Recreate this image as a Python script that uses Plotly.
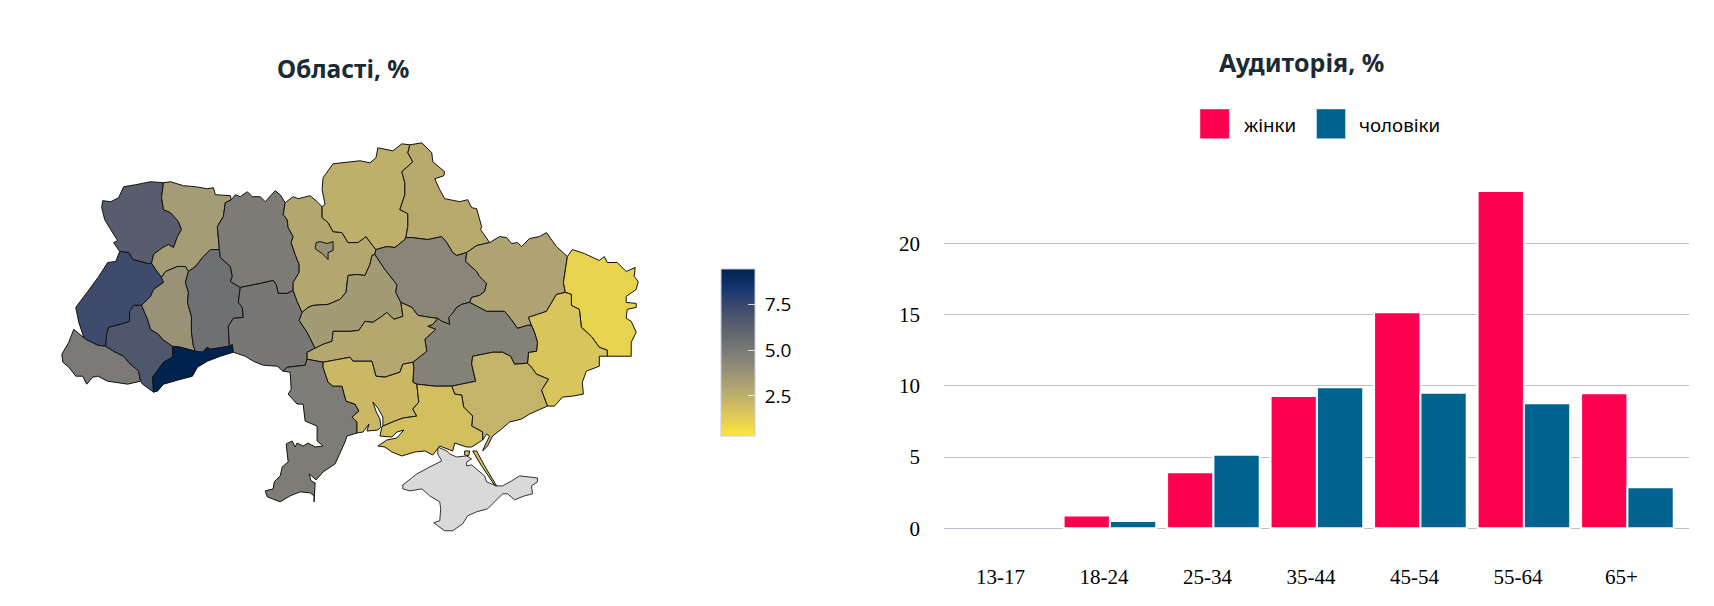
import json
import math
import urllib.parse
import plotly.graph_objects as go

# ---------- audience chart data ----------
age_groups = ["13-17", "18-24", "25-34", "35-44", "45-54", "55-64", "65+"]
women = [0, 0.89, 3.93, 9.28, 15.16, 23.67, 9.47]
men = [0, 0.51, 5.17, 9.89, 9.52, 8.77, 2.88]
y_ticks = [0, 5, 10, 15, 20]

# ---------- region values ----------
region_names = ["Волинська", "Рівненська", "Львівська", "Закарпатська", "Івано-Франківська",
                "Тернопільська", "Хмельницька", "Чернівецька", "Житомирська", "Вінницька",
                "Київська", "Черкаська", "Чернігівська", "Сумська", "Полтавська", "Харківська",
                "Луганська", "Донецька", "Дніпропетровська", "Кіровоградська", "Одеська",
                "Миколаївська", "Запорізька", "Херсонська", "м. Київ"]
region_values = [6.40, 3.36, 7.30, 4.97, 6.70,
                 3.80, 5.40, 9.44, 4.88, 5.06,
                 2.87, 3.40, 2.50, 2.70, 4.40, 3.05,
                 1.05, 1.60, 4.60, 2.80, 4.85,
                 2.10, 2.30, 1.80, 3.90]
colorbar_ticks = [2.5, 5.0, 7.5]

# ---------- map geometry: shared boundaries on a local Mercator grid ----------
GRID_PER_DEGREE = 32.0
GRID_X0, GRID_LON0 = 60.7, 22.14
GRID_Y0, GRID_LAT0 = 340.0, 48.5

ARCS = {
 "vol_out": [(163,183),(150,182),(135,185),(123,187),(118,198),(110,202),(102,201),(101,208),(104,220),(110,230),(117,241),(113,243),(119,252)],
 "vol_lvi": [(119,252),(128,253),(132,260),(147,264),(151,264)],
 "vol_riv": [(151,264),(153,255),(162,248),(168,245),(173,248),(177,237),(181,230),(178,222),(170,213),(163,210),(161,198),(163,183)],
 "riv_out": [(163,183),(170,182),(183,186),(195,187),(207,189),(213,188),(215,195),(230,196),(231,200)],
 "riv_zhy": [(231,200),(225,203),(223,217),(217,227),(219,250)],
 "riv_khm": [(219,250),(210,250),(203,257),(195,267),(188,272)],
 "riv_ter": [(188,272),(185,267),(177,267),(165,272),(161,278)],
 "riv_lvi": [(161,278),(155,270),(151,264)],
 "lvi_out": [(119,252),(115,262),(107,263),(98,277),(87,292),(75,308),(78,323),(83,338),(85,340)],
 "lvi_zak": [(85,340),(97,346),(105,347)],
 "lvi_if": [(141,306),(133,306),(129,312),(129,322),(120,325),(108,328),(106,335),(105,347)],
 "lvi_ter": [(161,278),(163,283),(153,290),(150,297),(141,306)],
 "zak_out": [(85,340),(73,330),(68,343),(61,355),(62,363),(68,368),(75,377),(82,377),(86,385),(92,378),(97,377),(107,382),(127,385),(140,382)],
 "zak_if": [(105,347),(113,352),(123,357),(128,363),(138,372),(140,382)],
 "if_ter": [(141,306),(147,320),(150,330),(158,335),(162,340),(172,347)],
 "if_che": [(172,347),(172,358),(163,363),(152,378),(153,393)],
 "if_out": [(140,382),(142,385),(153,393)],
 "ter_che": [(172,347),(180,348),(195,352)],
 "ter_khm": [(188,272),(185,283),(188,293),(187,303),(191,317),(191,333),(193,347),(195,352)],
 "khm_che": [(195,352),(202,353),(207,348),(210,350),(229,347)],
 "khm_zhy": [(219,250),(220,258),(230,267),(232,277),(230,282),(240,288)],
 "khm_vin": [(240,288),(238,303),(242,308),(243,318),(233,319),(228,327),(229,347)],
 "che_vin": [(229,347),(232,345),(233,353)],
 "che_out": [(233,353),(220,357),(207,362),(197,368),(192,377),(177,381),(163,385),(157,392),(153,393)],
 "zhy_out": [(231,200),(235,195),(240,197),(247,192),(252,197),(260,197),(265,202),(275,191),(280,195),(285,203)],
 "zhy_kyi": [(285,203),(283,215),(287,220),(288,228),(293,237),(291,243),(295,255),(299,265),(299,273),(293,283),(293,291)],
 "zhy_vin": [(240,288),(260,284),(273,281),(276,285),(278,294),(287,294),(293,291)],
 "vin_kyi": [(293,291),(297,302),(302,313)],
 "vin_chk": [(302,313),(299,321),(307,333),(315,349)],
 "vin_kir": [(315,349),(307,353),(307,360)],
 "vin_ode": [(307,360),(305,366),(287,368),(283,372)],
 "vin_out": [(233,353),(245,357),(253,362),(263,366),(277,367),(283,372)],
 "kyi_out": [(285,203),(293,197),(298,199),(310,196),(317,202),(322,207)],
 "kyi_che": [(322,207),(322,218),(328,223),(333,232),(342,233),(348,243),(358,243),(366,237),(372,245),(376,250)],
 "kyi_pol": [(376,250),(375,255)],
 "kyi_chk": [(375,255),(372,256),(370,265),(365,276),(357,275),(348,276),(346,293),(340,300),(328,305),(313,306),(308,308),(302,313)],
 "chk_pol": [(375,255),(385,270),(397,285),(396,293),(401,303)],
 "chk_kir": [(401,303),(403,317),(394,320),(387,313),(382,317),(373,323),(365,322),(359,331),(350,332),(333,332),(332,342),(323,345),(315,349)],
 "chg_out": [(410,145),(402,144),(393,151),(378,148),(376,158),(370,163),(360,161),(333,164),(323,178),(322,190),(325,205),(322,207)],
 "chg_sum": [(406,238),(408,227),(408,214),(400,210),(405,195),(405,183),(402,172),(413,162),(408,153),(410,145)],
 "chg_pol": [(376,250),(387,247),(395,248),(405,240),(406,238)],
 "sum_out": [(410,145),(422,143),(432,153),(433,162),(445,172),(444,176),(435,179),(440,190),(445,199),(460,202),(468,200),(472,208),(477,209),(482,227),(481,230),(490,243)],
 "sum_kha": [(467,253),(477,246),(490,243)],
 "sum_pol": [(467,253),(457,256),(453,253),(447,243),(442,237),(428,240),(412,238),(406,238)],
 "pol_kha": [(467,253),(466,262),(477,272),(480,277),(487,284),(485,292),(480,296),(472,298),(470,303)],
 "pol_dni": [(438,319),(442,322),(450,325),(449,318),(452,315),(457,308),(462,305),(470,303)],
 "pol_kir": [(401,303),(412,308),(418,316),(430,318),(438,319)],
 "kha_out": [(490,243),(500,237),(507,238),(512,244),(518,243),(522,247),(530,239),(540,237),(547,233),(557,247),(568,257)],
 "kha_lug": [(568,257),(564,283),(566,293)],
 "kha_don": [(566,293),(557,295),(547,312),(538,315),(529,318),(532,326)],
 "kha_dni": [(470,303),(487,312),(505,312),(510,318),(518,329),(528,326),(532,326)],
 "lug_out": [(568,257),(573,250),(585,254),(600,261),(605,257),(608,263),(618,263),(627,272),(636,268),(635,277),(639,282),(637,290),(627,297),(627,303),(637,304),(637,308),(628,310),(627,319),(632,322),(637,333),(632,343),(632,357),(620,357),(608,357)],
 "lug_don": [(566,293),(572,295),(572,306),(580,310),(582,328),(592,337),(600,348),(608,351),(608,357)],
 "don_dni": [(532,326),(535,333),(538,343),(537,352),(529,353),(528,364)],
 "don_zap": [(528,364),(532,368),(537,375),(549,380),(542,391),(548,407)],
 "don_out": [(608,357),(600,357),(600,367),(587,372),(583,383),(584,395),(573,397),(563,398),(555,407),(548,407)],
 "dni_zap": [(528,364),(515,365),(511,357),(503,353),(493,353),(473,357),(472,365),(476,382),(452,387)],
 "dni_khe": [(452,387),(435,387),(417,385)],
 "dni_myk": [(413,363),(414,368),(413,383),(417,385)],
 "dni_kir": [(438,319),(433,325),(428,327),(436,330),(425,340),(427,352),(413,363)],
 "kir_ode": [(307,360),(323,363)],
 "kir_myk": [(323,363),(350,358),(353,362),(372,362),(376,377),(385,378),(400,373),(403,365),(413,363)],
 "ode_out": [(283,372),(290,373),(291,390),(288,395),(297,405),(303,405),(305,422),(317,427),(317,442),(323,447),(315,448),(308,444),(303,447),(297,444),(295,448),(292,442),(286,445),(288,463),(282,468),(280,477),(274,483),(273,490),(265,492),(267,498),(280,503),(290,497),(300,493),(310,494),(314,497),(314,503),(315,484),(311,482),(309,475),(316,481),(323,473),(335,465),(345,443),(347,437),(357,434)],
 "ode_myk": [(323,363),(323,368),(328,383),(333,387),(342,387),(346,402),(355,405),(359,412),(352,418),(357,423),(357,434)],
 "myk_coast": [(357,434),(363,433),(369,425),(367,432),(378,431),(381,428),(380,420),(376,412),(373,403),(378,409),(383,418),(383,427)],
 "myk_khe": [(417,385),(419,403),(413,410),(417,417),(403,419),(395,422),(383,427)],
 "zap_khe": [(452,387),(455,395),(462,396),(464,408),(473,417),(472,427),(483,433),(483,441)],
 "zap_coast": [(548,407),(530,415),(522,420),(510,423),(502,430),(493,437),(488,447),(483,452),(486,445),(490,437),(487,435),(483,441)],
 "khe_coast": [(483,441),(472,448),(467,448),(455,444),(453,452),(440,447),(433,456),(425,452),(415,453),(402,457),(392,453),(385,448),(378,447),(387,441),(397,439),(404,431),(397,433),(392,438),(380,437),(382,428),(383,427)],
}

REGION_RINGS = {
 "Волинська": ["vol_out", "vol_lvi", "vol_riv"],
 "Рівненська": ["riv_out", "riv_zhy", "riv_khm", "riv_ter", "riv_lvi", "vol_riv"],
 "Львівська": ["lvi_out", "lvi_zak", "-lvi_if", "-lvi_ter", "riv_lvi", "-vol_lvi"],
 "Закарпатська": ["zak_out", "-zak_if", "-lvi_zak"],
 "Івано-Франківська": ["lvi_if", "zak_if", "if_out", "-if_che", "-if_ter"],
 "Тернопільська": ["-riv_ter", "ter_khm", "-ter_che", "-if_ter", "-lvi_ter"],
 "Хмельницька": ["-riv_khm", "khm_zhy", "khm_vin", "-khm_che", "-ter_khm"],
 "Чернівецька": ["ter_che", "khm_che", "che_vin", "che_out", "-if_che"],
 "Житомирська": ["zhy_out", "zhy_kyi", "-zhy_vin", "-khm_zhy", "-riv_zhy"],
 "Вінницька": ["zhy_vin", "vin_kyi", "vin_chk", "vin_kir", "vin_ode", "-vin_out", "-che_vin", "-khm_vin"],
 "Київська": ["kyi_out", "kyi_che", "kyi_pol", "kyi_chk", "-vin_kyi", "-zhy_kyi"],
 "Черкаська": ["-kyi_chk", "chk_pol", "chk_kir", "-vin_chk"],
 "Чернігівська": ["chg_out", "kyi_che", "chg_pol", "chg_sum"],
 "Сумська": ["sum_out", "-sum_kha", "sum_pol", "chg_sum"],
 "Полтавська": ["chg_pol", "-sum_pol", "pol_kha", "-pol_dni", "-pol_kir", "-chk_pol", "-kyi_pol"],
 "Харківська": ["kha_out", "kha_lug", "kha_don", "-kha_dni", "-pol_kha", "sum_kha"],
 "Луганська": ["lug_out", "-lug_don", "-kha_lug"],
 "Донецька": ["-kha_don", "lug_don", "don_out", "-don_zap", "-don_dni"],
 "Дніпропетровська": ["pol_dni", "kha_dni", "don_dni", "dni_zap", "dni_khe", "-dni_myk", "-dni_kir"],
 "Кіровоградська": ["-vin_kir", "-chk_kir", "pol_kir", "dni_kir", "-kir_myk", "-kir_ode"],
 "Одеська": ["ode_out", "-ode_myk", "-kir_ode", "vin_ode"],
 "Миколаївська": ["kir_myk", "dni_myk", "myk_khe", "-myk_coast", "-ode_myk"],
 "Запорізька": ["-dni_zap", "don_zap", "zap_coast", "-zap_khe"],
 "Херсонська": ["-dni_khe", "zap_khe", "khe_coast", "-myk_khe"],
}
EXTRA_RINGS = {
 "Херсонська": [[(473,452),(477,452),(485,467),(497,487),(495.5,487),(482,467)], [(465,452),(470,452),(469,457),(465,456)]],
 "м. Київ": [[(316,243),(320,242),(327,244),(333,242),(333,251),(328,253),(328,260),(322,254),(315,249)]],
}
CRIMEA_RING = [(438,448),(447,452),(450,455),(457,458),(467,457),(472,460),(467,463),(467,467),(472,466),(485,477),(487,483),(497,487),(503,487),(512,482),(520,477),(538,479),(538,483),(532,487),(533,495),(525,497),(515,501),(508,495),(503,495),(493,505),(488,510),(477,513),(468,517),(463,525),(453,532),(445,532),(438,527),(434,524),(440,522),(441,510),(440,503),(430,497),(422,490),(410,492),(403,490),(403,486),(417,475),(430,468),(442,462),(438,455)]


def grid_to_lonlat(p):
    lon = GRID_LON0 + (p[0] - GRID_X0) / GRID_PER_DEGREE
    r = GRID_PER_DEGREE * 180 / math.pi
    m0 = math.log(math.tan(math.pi / 4 + math.radians(GRID_LAT0) / 2))
    m = m0 + (GRID_Y0 - p[1]) / r
    lat = math.degrees(2 * math.atan(math.exp(m)) - math.pi / 2)
    return [lon, lat]


def clockwise(ring):
    area = sum(a[0] * b[1] - b[0] * a[1] for a, b in zip(ring, ring[1:] + ring[:1]))
    return ring[::-1] if area > 0 else ring


def close_ring(points):
    ring = clockwise([grid_to_lonlat(p) for p in points])
    return [ring + [ring[0]]]


def ring_from_arcs(names):
    pts = []
    for n in names:
        seg = ARCS[n[1:]][::-1] if n.startswith("-") else ARCS[n]
        pts.extend(seg if not pts else seg[1:])
    if pts[0] == pts[-1]:
        pts = pts[:-1]
    return pts


features = []
for name in region_names:
    polys = []
    if name in REGION_RINGS:
        polys.append(close_ring(ring_from_arcs(REGION_RINGS[name])))
    for extra in EXTRA_RINGS.get(name, []):
        polys.append(close_ring(extra))
    features.append({"type": "Feature", "id": name, "properties": {},
                     "geometry": {"type": "MultiPolygon", "coordinates": polys}})
features.append({"type": "Feature", "id": "АР Крим", "properties": {},
                 "geometry": {"type": "MultiPolygon", "coordinates": [close_ring(CRIMEA_RING)]}})
geojson = {"type": "FeatureCollection", "features": features}

W, H = 1714, 606
PINK, BLUE = "#ff0050", "#006390"
GRID = "#bfbdcf"
UI_FONT = "Noto Sans"
Z_MIN, Z_MAX = 0.286, 9.445
BAR_TOP, BAR_LEN, BAR_LEFT, BAR_THICK = 269.3, 166.7, 720.7, 33.6
TICK_WHITE = "rgba(255,255,255,0.8)"


def bar_outline(values):
    # empty bars get no white outline, so the baseline stays visible under them
    return dict(color="#ffffff", width=[0 if v == 0 else 2 for v in values])


fig = go.Figure()
fig.add_trace(go.Choropleth(
    geojson=geojson, locations=["АР Крим"], z=[1], showscale=False, geo="geo",
    colorscale=[[0, "#d9d9d9"], [1, "#d9d9d9"]],
    marker_line=dict(color="#333333", width=1), hoverinfo="location"))
fig.add_trace(go.Choropleth(
    geojson=geojson, locations=region_names, z=region_values, geo="geo",
    colorscale="Cividis", reversescale=True, zmin=Z_MIN, zmax=Z_MAX,
    marker_line=dict(color="#111111", width=1),
    colorbar=dict(
        x=BAR_LEFT / W, xanchor="left", y=1 - BAR_TOP / H, yanchor="top",
        thickness=BAR_THICK, thicknessmode="pixels", len=BAR_LEN, lenmode="pixels",
        xpad=0, ypad=0, outlinewidth=1, outlinecolor="#c8ccd6", borderwidth=0,
        tickvals=colorbar_ticks, ticktext=["\u00a0%.1f" % v for v in colorbar_ticks],
        ticks="inside", ticklen=7, tickcolor=TICK_WHITE, tickwidth=1,
        tickfont=dict(family="Open Sans", size=19, color="#000000"))))

fig.add_trace(go.Bar(x=age_groups, y=women, name="жінки", marker=dict(color=PINK, line=bar_outline(women)), showlegend=False))
fig.add_trace(go.Bar(x=age_groups, y=men, name="чоловіки", marker=dict(color=BLUE, line=bar_outline(men)), showlegend=False))

annotations = [
    dict(text="<b>Області, %</b>", x=343 / W, y=1 - 68 / H, font=dict(size=24.5, color="#1b2a33", family=UI_FONT)),
    dict(text="<b>Аудиторія, %</b>", x=1301 / W, y=1 - 62 / H, font=dict(size=25, color="#1b2a33", family=UI_FONT)),
    dict(text="жінки", x=1241.5 / W, y=1 - 124.5 / H, xanchor="left", font=dict(size=18.7, color="#000000", family=UI_FONT)),
    dict(text="чоловіки", x=1357 / W, y=1 - 124.5 / H, xanchor="left", font=dict(size=18.7, color="#000000", family=UI_FONT)),
]
for a in annotations:
    a.update(xref="paper", yref="paper", showarrow=False)
    a.setdefault("xanchor", "center")
    a["yanchor"] = "middle"

shapes = [
    dict(type="rect", xref="paper", yref="paper", x0=1200 / W, x1=1229.4 / W, y0=1 - 138.7 / H, y1=1 - 109 / H, fillcolor=PINK, line=dict(color="rgba(255,255,255,0.4)", width=1)),
    dict(type="rect", xref="paper", yref="paper", x0=1316.5 / W, x1=1345.5 / W, y0=1 - 138.7 / H, y1=1 - 109 / H, fillcolor=BLUE, line=dict(color="rgba(255,255,255,0.4)", width=1)),
]
for v in colorbar_ticks:
    py = BAR_TOP + (Z_MAX - v) / (Z_MAX - Z_MIN) * BAR_LEN
    shapes.append(dict(type="line", xref="paper", yref="paper", x0=BAR_LEFT / W, x1=(BAR_LEFT + 7.5) / W,
                       y0=1 - py / H, y1=1 - py / H, line=dict(color=TICK_WHITE, width=1)))

# map window on the local grid, a little larger than the country so nothing is clipped
win_x0, win_x1, win_y0, win_y1 = 40.0, 660.0, 120.0, 550.0
MAP_SHIFT_Y = 8.7
lon_min, lat_min = grid_to_lonlat((win_x0, win_y1))
lon_max, lat_max = grid_to_lonlat((win_x1, win_y0))

fig.update_layout(
    width=W, height=H, margin=dict(l=0, r=0, t=0, b=0, pad=0, autoexpand=False),
    paper_bgcolor="#ffffff", plot_bgcolor="#ffffff", font=dict(family="Liberation Serif", color="#000000"),
    barmode="group", bargap=0.105, bargroupgap=0, showlegend=False,
    annotations=annotations, shapes=shapes,
    geo=dict(
        domain=dict(x=[win_x0 / W, win_x1 / W], y=[1 - (win_y1 + MAP_SHIFT_Y) / H, 1 - (win_y0 + MAP_SHIFT_Y) / H]),
        projection_type="mercator", visible=False,
        lonaxis=dict(range=[lon_min, lon_max]), lataxis=dict(range=[lat_min, lat_max]),
        showframe=False, showcoastlines=False, showland=False, showcountries=False,
        showlakes=False, showocean=False, showsubunits=False, bgcolor="rgba(0,0,0,0)"),
    xaxis=dict(
        domain=[944.3 / W, 1689 / W], range=[-0.6, 6.595], type="category",
        categoryorder="array", categoryarray=age_groups,
        showgrid=False, showline=False, zeroline=False, ticks="outside", ticklen=15,
        tickcolor="rgba(0,0,0,0)", ticklabelshift=-6,
        tickfont=dict(family="Liberation Serif", size=21, color="#000000")),
    yaxis=dict(
        domain=[1 - 542.55 / H, 1 - 180 / H], range=[-1, 348.3 / 14.25],
        tickvals=y_ticks, gridcolor=GRID, gridwidth=1, zeroline=True, zerolinecolor=GRID, zerolinewidth=1,
        showline=False, ticks="outside", ticklen=19, tickcolor="rgba(0,0,0,0)",
        tickfont=dict(family="Liberation Serif", size=21, color="#000000")),
)

# The base map layers are all hidden, so an empty topology stands in for the one plotly.js would download.
EMPTY_LAYER = {"type": "GeometryCollection", "geometries": []}
empty_topology = {"type": "Topology", "arcs": [], "transform": {"scale": [1, 1], "translate": [0, 0]},
                  "objects": {k: EMPTY_LAYER for k in ["coastlines", "land", "ocean", "lakes", "rivers", "countries", "subunits"]}}
topojson_url = "data:application/json," + urllib.parse.quote(json.dumps(empty_topology)) + "#"

fig.write_html("out.html", config={"topojsonURL": topojson_url, "displayModeBar": False},
               post_script="document.body.style.margin='0';document.body.style.overflow='hidden';")
